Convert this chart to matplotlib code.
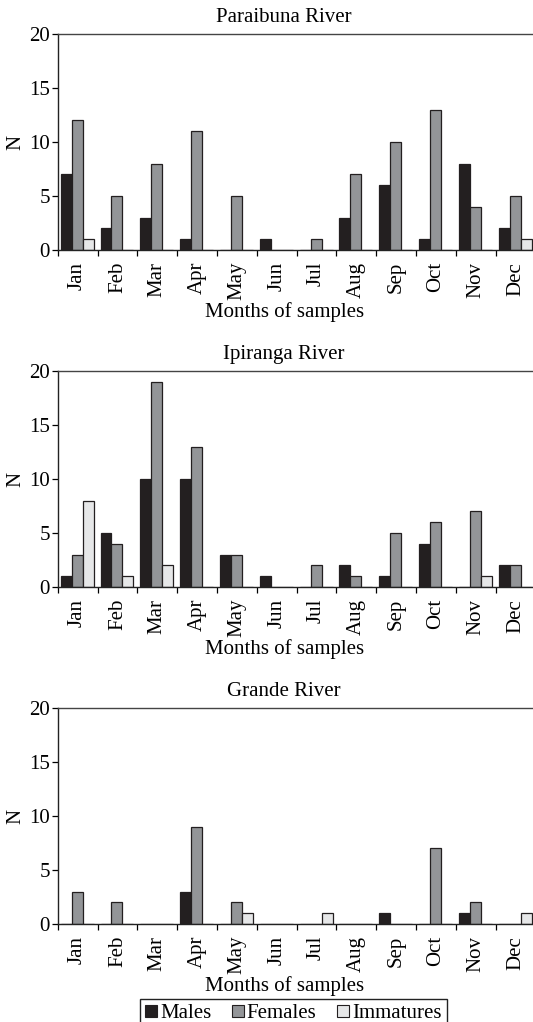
import numpy as np
import matplotlib
matplotlib.use('Agg')
import matplotlib.pyplot as plt
from matplotlib.patches import Patch

plt.rcParams['font.family'] = ['Liberation Serif', 'DejaVu Serif']
plt.rcParams['font.size'] = 15

months = ['Jan', 'Feb', 'Mar', 'Apr', 'May', 'Jun',
          'Jul', 'Aug', 'Sep', 'Oct', 'Nov', 'Dec']
groups = ['Males', 'Females', 'Immatures']
rivers = ['Paraibuna River', 'Ipiranga River', 'Grande River']

# monthly counts per river
paraibuna_males = [7, 2, 3, 1, 0, 1, 0, 3, 6, 1, 8, 2]
paraibuna_females = [12, 5, 8, 11, 5, 0, 1, 7, 10, 13, 4, 5]
paraibuna_immatures = [1, 0, 0, 0, 0, 0, 0, 0, 0, 0, 0, 1]

ipiranga_males = [1, 5, 10, 10, 3, 1, 0, 2, 1, 4, 0, 2]
ipiranga_females = [3, 4, 19, 13, 3, 0, 2, 1, 5, 6, 7, 2]
ipiranga_immatures = [8, 1, 2, 0, 0, 0, 0, 0, 0, 0, 1, 0]

grande_males = [0, 0, 0, 3, 0, 0, 0, 0, 1, 0, 1, 0]
grande_females = [3, 2, 0, 9, 2, 0, 0, 0, 0, 7, 2, 0]
grande_immatures = [0, 0, 0, 0, 1, 0, 1, 0, 0, 0, 0, 1]

data = [
    [paraibuna_males, paraibuna_females, paraibuna_immatures],
    [ipiranga_males, ipiranga_females, ipiranga_immatures],
    [grande_males, grande_females, grande_immatures],
]

colors = ['#231f20', '#939598', '#e6e7e8']
edge = '#231f20'

W, H = 533, 1022
fig = plt.figure(figsize=(W / 100, H / 100), dpi=100)

left = 57.7 / W
width = (535.5 - 57.7) / W
height = 216 / H
bottoms = [250, 587, 924]  # pixel rows of the zero line

bar_w = 0.276
offsets = [0.075 + bar_w * (k + 0.5) for k in range(3)]
x = np.arange(12)

for r, (name, series) in enumerate(zip(rivers, data)):
    ax = fig.add_axes([left, 1 - bottoms[r] / H, width, height])
    for k, vals in enumerate(series):
        ax.bar(x + offsets[k], vals, width=bar_w, color=colors[k],
               edgecolor=edge, linewidth=0.9, zorder=2)

    ax.set_xlim(0, 12)
    ax.set_ylim(0, 20)
    ax.set_yticks([0, 5, 10, 15, 20])
    ax.tick_params(axis='y', direction='out', length=4, width=0.9, pad=1.5,
                   labelsize=15)

    # boundary ticks between months, labels centred on each month
    ax.set_xticks(np.arange(13))
    ax.set_xticklabels([])
    ax.set_xticks(x + 0.5, minor=True)
    ax.set_xticklabels(months, minor=True, rotation=90, fontsize=15)
    ax.tick_params(axis='x', which='major', direction='out', length=4.3,
                   width=0.9)
    ax.tick_params(axis='x', which='minor', length=0, pad=8.5)

    ax.spines['right'].set_visible(False)
    for s in ['left', 'bottom', 'top']:
        ax.spines[s].set_linewidth(1.0)
        ax.spines[s].set_color('#222222')
    ax.spines['top'].set_color('#444444')

    ax.set_title(name, x=0.474, pad=8.5, fontsize=15)
    ax.set_xlabel('Months of samples', fontsize=15)
    ax.xaxis.set_label_coords(0.474, -62 / 216)
    ax.xaxis.label.set_verticalalignment('center')
    ax.set_ylabel('N', fontsize=15)
    ax.yaxis.set_label_coords(-0.087, 0.5)
    ax.yaxis.label.set_verticalalignment('center')

handles = [Patch(facecolor=c, edgecolor=edge, linewidth=0.8) for c in colors]
leg = fig.legend(handles, groups, loc='upper center',
                 bbox_to_anchor=(293.4 / W, 1 - 999 / H), ncol=3,
                 frameon=True, fancybox=False, framealpha=1,
                 edgecolor='#222222', handlelength=0.55, handleheight=0.55,
                 handletextpad=0.15, columnspacing=1.0, borderpad=0.25,
                 borderaxespad=0, fontsize=15)
leg.get_frame().set_linewidth(1.0)

fig.savefig('out.png', dpi=100)
